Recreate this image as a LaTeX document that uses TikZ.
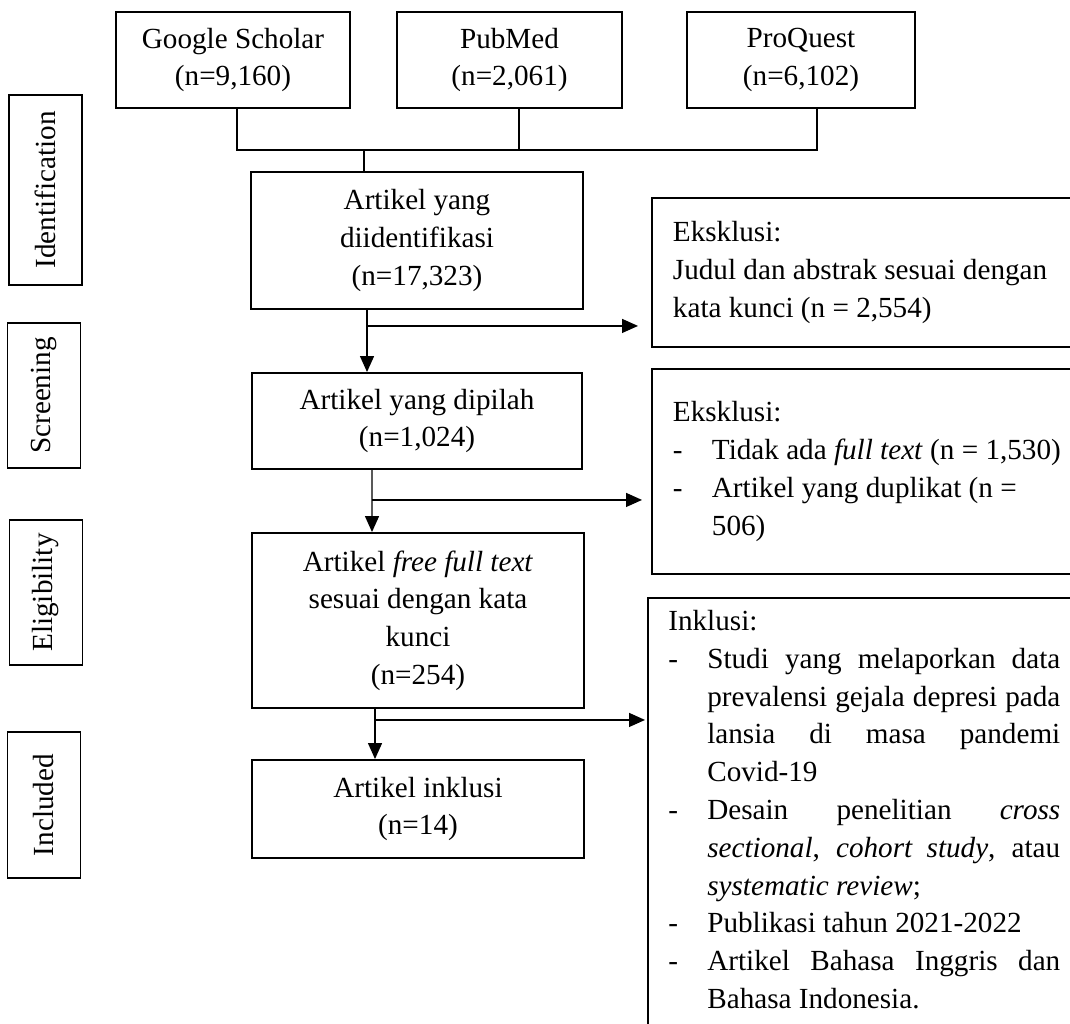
\documentclass[tikz,border=0pt]{standalone}
\usepackage{fontspec}
\setmainfont{Liberation Serif}
\usetikzlibrary{arrows.meta,calc}
\newcommand{\fsz}{\fontsize{16.6}{21.5}\selectfont}
\newcommand{\dashitem}{\par\hangindent=0.78cm\hangafter=1\noindent\makebox[0.78cm][l]{-}}
\tikzset{
  box/.style={draw,line width=1.1pt,minimum width=6.64cm,align=center,font=\fsz},
  srcbox/.style={box,minimum height=1.92cm},
  phase/.style={draw,line width=1.1pt,rotate=90,minimum height=1.46cm,font=\fsz},
  sidebox/.style={draw,line width=1.1pt,anchor=north west,text width=8.6cm,inner xsep=0.42cm,align=flush left,font=\fsz},
  link/.style={line width=0.6pt},
  arr/.style={line width=0.75pt,-{Triangle[length=0.32cm,width=0.28cm]}}
}
\begin{document}
\begin{tikzpicture}[x=0.02cm,y=-0.02cm]
  \useasboundingbox (0,0) rectangle (1070,1023);
  \clip (0,0) rectangle (1070,1023);

  \node[srcbox,minimum width=4.68cm] (gs) at (233,60) {Google Scholar\\(n=9,160)};
  \node[srcbox,minimum width=4.5cm] (pm) at (509.5,60) {PubMed\\(n=2,061)};
  \node[srcbox,minimum width=4.56cm] (pq) at (801,60) {ProQuest\\(n=6,102)};

  \node[box,minimum height=2.74cm] (ident) at (417,240.5) {Artikel yang\\diidentifikasi\\(n=17,323)};
  \node[box,minimum height=1.92cm,minimum width=6.6cm] (pilah) at (417,421) {Artikel yang dipilah\\(n=1,024)};
  \node[box,minimum height=3.5cm] (elig) at (418,620.5) {Artikel \textit{free full text}\\sesuai dengan kata\\kunci\\(n=254)};
  \node[box,minimum height=1.96cm] (incl) at (418,809) {Artikel inklusi\\(n=14)};

  \node[phase,minimum width=3.8cm] (pid) at (45.5,190) {Identification};
  \node[phase,minimum width=2.9cm] (psc) at (44,395.5) {Screening};
  \node[phase,minimum width=2.9cm] (pel) at (46,592.5) {Eligibility};
  \node[phase,minimum width=2.92cm] (pin) at (44,805) {Included};

  \node[sidebox,minimum height=2.98cm] (ex1) at (651,197) {Eksklusi:\\Judul dan abstrak sesuai dengan\\kata kunci (n = 2,554)};
  \node[sidebox,minimum height=4.1cm] (ex2) at (651,368) {Eksklusi:\dashitem Tidak ada \textit{full text} (n = 1,530)\dashitem Artikel yang duplikat (n =\newline 506)\par};
  \node[draw,line width=1.1pt,anchor=north west,minimum width=8.68cm,minimum height=9cm] (crit) at (647,597) {};
  \node[anchor=north west,text width=7.84cm,align=justify,inner sep=0pt,font=\fsz] (crittext) at (668,610) {Inklusi:\dashitem Studi yang melaporkan data\linebreak prevalensi gejala depresi pada\linebreak lansia di masa pandemi\linebreak Covid-19\dashitem Desain penelitian \textit{cross}\linebreak \textit{sectional}, \textit{cohort study}, atau\linebreak \textit{systematic review};\dashitem Publikasi tahun 2021-2022\dashitem Artikel Bahasa Inggris dan\linebreak Bahasa Indonesia.\par};

  \coordinate (j) at (364,150);
  \coordinate (gsb) at ([xshift=0.08cm]gs.south);
  \coordinate (pmb) at ([xshift=0.19cm]pm.south);
  \coordinate (pqb) at ([xshift=0.32cm]pq.south);
  \draw[link] (gsb) |- (j) -| (pqb);
  \draw[link] (pmb) -- (pmb |- j);
  \draw[link] (j) -- (j |- ident.north);

  \draw[arr] ([xshift=-1cm]ident.south) -- ([xshift=-1cm]pilah.north);
  \coordinate (b1) at ([xshift=-1cm,yshift=-0.32cm]ident.south);
  \draw[arr,shorten >=0.26cm] (b1) -- (b1 -| ex1.west);

  \draw[arr] ([xshift=-0.9cm]pilah.south) -- ([xshift=-0.92cm]elig.north);
  \coordinate (b2) at ([xshift=-0.9cm,yshift=-0.6cm]pilah.south);
  \draw[arr,shorten >=0.18cm] (b2) -- (b2 -| ex2.west);

  \draw[arr] ([xshift=-0.86cm]elig.south) -- ([xshift=-0.86cm]incl.north);
  \coordinate (b3) at ([xshift=-0.86cm,yshift=-0.22cm]elig.south);
  \draw[arr,shorten >=0.04cm] (b3) -- (b3 -| crit.west);
\end{tikzpicture}
\end{document}
